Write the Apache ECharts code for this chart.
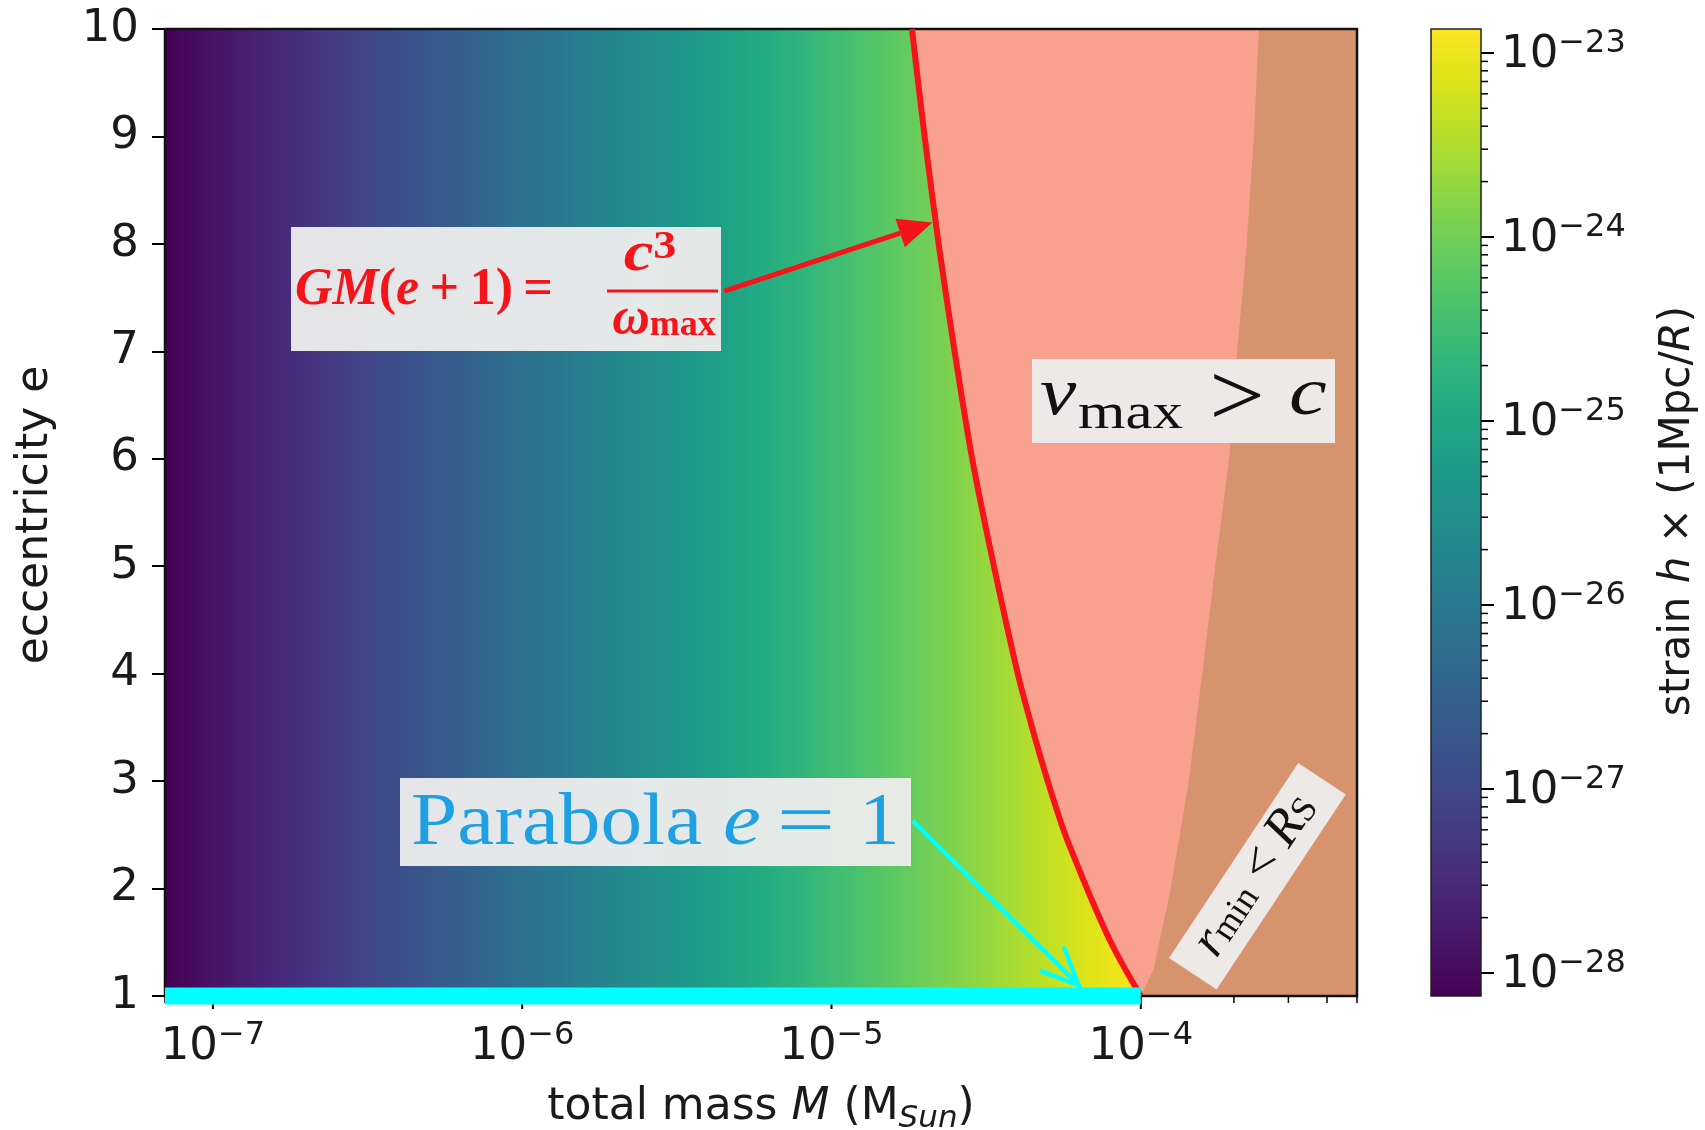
<!DOCTYPE html>
<html><head><meta charset="utf-8">
<script src="https://cdn.jsdelivr.net/npm/echarts@6.0.0/dist/echarts.min.js"></script>
<style>html,body{margin:0;padding:0;background:#fff}#c{width:1705px;height:1130px}</style>
</head><body><div id="c"></div>
<script>
// ---------------- data ----------------
const xRange = [7e-8, 5e-4];                 // total mass M (M_Sun), log axis
const eRange = [1, 10];                      // eccentricity e
const xMajorTicks = [1e-7, 1e-6, 1e-5, 1e-4];
const xMinorTicks = [7e-8, 8e-8, 9e-8,
  2e-7, 3e-7, 4e-7, 5e-7, 6e-7, 7e-7, 8e-7, 9e-7,
  2e-6, 3e-6, 4e-6, 5e-6, 6e-6, 7e-6, 8e-6, 9e-6,
  2e-5, 3e-5, 4e-5, 5e-5, 6e-5, 7e-5, 8e-5, 9e-5,
  2e-4, 3e-4, 4e-4, 5e-4];
// red curve  GM(e+1) = c^3/omega_max : limiting mass at each eccentricity
const curveE = [1, 1.25, 1.5, 1.75, 2, 2.5, 3, 3.5, 4, 5, 6, 7, 8, 9, 10];
const curveM = [1.0e-4, 8.9e-5, 8.0e-5, 7.3e-5, 6.7e-5, 5.7e-5, 5.0e-5, 4.45e-5, 4.0e-5, 3.35e-5, 2.85e-5, 2.5e-5, 2.22e-5, 2.0e-5, 1.82e-5];
// boundary of the r_min < R_S region
const rsE = [1, 1.25, 2, 3, 4, 5, 6, 7, 8, 9, 10];
const rsM = [1.0e-4, 1.10e-4, 1.25e-4, 1.43e-4, 1.58e-4, 1.74e-4, 1.93e-4, 2.05e-4, 2.20e-4, 2.32e-4, 2.41e-4];
// strain h x (1Mpc/R) read along the mass axis (colour depends on M only)
const strainMass = [7e-8, 1e-7, 1e-6, 1e-5, 1e-4];
const strainVal  = [7.5e-29, 1.36e-28, 6.3e-27, 2.9e-25, 1.35e-23];
// colour bar
const cbRange = [7.5e-29, 1.35e-23];
const cbMajorTicks = [1e-28, 1e-27, 1e-26, 1e-25, 1e-24, 1e-23];
const cbMinorTicks = [2e-28,3e-28,4e-28,5e-28,6e-28,7e-28,8e-28,9e-28,
  2e-27,3e-27,4e-27,5e-27,6e-27,7e-27,8e-27,9e-27,
  2e-26,3e-26,4e-26,5e-26,6e-26,7e-26,8e-26,9e-26,
  2e-25,3e-25,4e-25,5e-25,6e-25,7e-25,8e-25,9e-25,
  2e-24,3e-24,4e-24,5e-24,6e-24,7e-24,8e-24,9e-24];
// annotation arrows [tail, tip] in data coordinates (M, e)
const redArrow  = [[4.5e-6, 7.56], [2.12e-5, 8.2]];
const cyanArrow = [[1.83e-5, 2.63], [6.3e-5, 1.1]];

// ---------------- styles ----------------
const VIRIDIS = ['#440154','#471365','#482475','#463480','#414487','#3b528b','#355f8d','#2f6c8e','#2a788e','#25848e','#21918c','#1e9c89','#22a884','#2fb47c','#44bf70','#5ec962','#7ad151','#9bd93c','#bddf26','#dfe318','#fde725'];
const SANS = '"DejaVu Sans", sans-serif';
const SERIF = '"Liberation Serif", serif';
const TXT = '#1a1a1a';
const SALMON = '#f9a18f';
const BROWN = '#d6936e';
const RED = '#f5141a';
const CYAN = '#00ffff';
const BLUE_TXT = '#1ea0e3';
const BOXBG = 'rgba(236,236,236,0.96)';

function massForLogStrain(lh) {
  const xs = strainVal.map(Math.log10), ms = strainMass.map(Math.log10);
  let i = 0;
  while (i < xs.length - 2 && lh > xs[i + 1]) i++;
  const t = (lh - xs[i]) / (xs[i + 1] - xs[i]);
  return ms[i] + t * (ms[i + 1] - ms[i]);
}
function expLabel(v) {
  const l = Math.log10(v), e = Math.round(l);
  if (Math.abs(l - e) > 1e-6) return '';
  return '{b|10}{s|\u2212' + (-e) + '}';
}
const tickRich = {
  b: {fontFamily: SANS, fontSize: 45, color: TXT, lineHeight: 50, verticalAlign: 'bottom'},
  s: {fontFamily: SANS, fontSize: 32, color: TXT, lineHeight: 24, verticalAlign: 'top'}
};

function arrow(api, seg, color, width, headLen, headW, filled) {
  const a = api.coord(seg[0]), b = api.coord(seg[1]);
  const dx = b[0] - a[0], dy = b[1] - a[1], L = Math.hypot(dx, dy), ux = dx / L, uy = dy / L;
  const base = [b[0] - ux * headLen, b[1] - uy * headLen];
  const p1 = [base[0] - uy * headW / 2, base[1] + ux * headW / 2];
  const p2 = [base[0] + uy * headW / 2, base[1] - ux * headW / 2];
  const end = filled ? base : [b[0] - ux * width * 0.5, b[1] - uy * width * 0.5];
  const kids = [{type: 'line', shape: {x1: a[0], y1: a[1], x2: end[0], y2: end[1]}, style: {stroke: color, lineWidth: width}}];
  if (filled) kids.push({type: 'polygon', shape: {points: [b, p1, p2]}, style: {fill: color}});
  else kids.push({type: 'polyline', shape: {points: [p1, b, p2]}, style: {stroke: color, lineWidth: width, fill: null}});
  return {type: 'group', children: kids};
}
function txt(x, y, text, font, fill, extra, align) {
  return Object.assign({type: 'text', z: 101, x: x, y: y,
    style: {text: text, font: font, fill: fill, align: align || 'left', verticalAlign: 'middle'}}, extra || {});
}

const chart = echarts.init(document.getElementById('c'), null, {renderer: 'canvas'});
chart.setOption({
  animation: false,
  backgroundColor: '#ffffff',
  grid: [
    {left: 165, top: 29, width: 1192, height: 967},
    {left: 1431, top: 29, width: 50, height: 967}
  ],
  xAxis: [
    {type: 'log', logBase: 10, gridIndex: 0, min: xRange[0], max: xRange[1],
     axisLine: {show: false}, axisTick: {show: false}, splitLine: {show: false},
     axisLabel: {formatter: expLabel, rich: tickRich, margin: 24, showMinLabel: false, showMaxLabel: false}},
    {type: 'value', gridIndex: 1, min: 0, max: 1, show: false}
  ],
  yAxis: [
    {type: 'value', gridIndex: 0, min: eRange[0], max: eRange[1], interval: 1,
     axisLine: {show: false}, splitLine: {show: false},
     axisTick: {show: true, length: 13, lineStyle: {color: '#000', width: 2}},
     axisLabel: {fontFamily: SANS, fontSize: 45, color: TXT, margin: 26}},
    {type: 'log', logBase: 10, gridIndex: 1, position: 'right', min: cbRange[0], max: cbRange[1],
     axisLine: {show: false}, axisTick: {show: false}, splitLine: {show: false},
     axisLabel: {formatter: expLabel, rich: tickRich, margin: 20, showMinLabel: false, showMaxLabel: false}}
  ],
  series: [
    { // strain colour field, allowed region left of the red curve
      type: 'custom', xAxisIndex: 0, yAxisIndex: 0, z: 2,
      data: [[xRange[0], eRange[0]]],
      renderItem: (params, api) => {
        const pts = [api.coord([xRange[0], eRange[1]])];
        for (let i = curveE.length - 1; i >= 0; i--) pts.push(api.coord([curveM[i], curveE[i]]));
        pts.push(api.coord([xRange[0], eRange[0]]));
        const xa = api.coord([xRange[0], 1])[0], xb = api.coord([curveM[0], 1])[0];
        const lo = Math.log10(cbRange[0]), hi = Math.log10(cbRange[1]);
        const stops = VIRIDIS.map((c, i) => {
          const lh = lo + (i / (VIRIDIS.length - 1)) * (hi - lo);
          const x = api.coord([Math.pow(10, massForLogStrain(lh)), 1])[0];
          return {offset: Math.min(1, Math.max(0, (x - xa) / (xb - xa))), color: c};
        });
        return {type: 'polygon', shape: {points: pts},
          style: {fill: new echarts.graphic.LinearGradient(xa, 0, xb, 0, stops, true)}};
      }
    },
    { // v_max > c region
      type: 'custom', xAxisIndex: 0, yAxisIndex: 0, z: 3,
      data: [[xRange[1], eRange[0]]],
      renderItem: (params, api) => {
        const pts = curveE.map((e, i) => api.coord([curveM[i], e]));
        pts.push(api.coord([xRange[1], eRange[1]]));
        pts.push(api.coord([xRange[1], eRange[0]]));
        return {type: 'polygon', shape: {points: pts}, style: {fill: SALMON}};
      }
    },
    { // r_min < R_S region
      type: 'custom', xAxisIndex: 0, yAxisIndex: 0, z: 4,
      data: [[xRange[1], eRange[1]]],
      renderItem: (params, api) => {
        const pts = rsE.map((e, i) => api.coord([rsM[i], e]));
        pts.push(api.coord([xRange[1], eRange[1]]));
        pts.push(api.coord([xRange[1], eRange[0]]));
        return {type: 'polygon', shape: {points: pts}, style: {fill: BROWN}};
      }
    },
    { // frame
      type: 'custom', xAxisIndex: 0, yAxisIndex: 0, z: 5,
      data: [[xRange[0], eRange[1]]],
      renderItem: (params, api) => {
        const a = api.coord([xRange[0], eRange[1]]), b = api.coord([xRange[1], eRange[0]]);
        return {type: 'rect', shape: {x: a[0], y: a[1], width: b[0] - a[0], height: b[1] - a[1]},
          style: {fill: null, stroke: '#111', lineWidth: 2.5}};
      }
    },
    { // x major ticks
      type: 'custom', xAxisIndex: 0, yAxisIndex: 0, z: 5,
      data: xMajorTicks.map(v => [v, eRange[0]]),
      renderItem: (params, api) => {
        const p = api.coord([api.value(0), eRange[0]]);
        return {type: 'line', shape: {x1: p[0], y1: p[1], x2: p[0], y2: p[1] + 13}, style: {stroke: '#000', lineWidth: 2}};
      }
    },
    { // x minor ticks
      type: 'custom', xAxisIndex: 0, yAxisIndex: 0, z: 5,
      data: xMinorTicks.map(v => [v, eRange[0]]),
      renderItem: (params, api) => {
        const p = api.coord([api.value(0), eRange[0]]);
        return {type: 'line', shape: {x1: p[0], y1: p[1], x2: p[0], y2: p[1] + 7}, style: {stroke: '#000', lineWidth: 1.5}};
      }
    },
    { // red limiting curve
      type: 'line', xAxisIndex: 0, yAxisIndex: 0, z: 6,
      data: curveM.map((m, i) => [m, curveE[i]]),
      symbol: 'none', smooth: 0.25, clip: true,
      lineStyle: {color: RED, width: 6}
    },
    { // parabola e = 1
      type: 'line', xAxisIndex: 0, yAxisIndex: 0, z: 7,
      data: [[xRange[0], eRange[0]], [curveM[0], eRange[0]]],
      symbol: 'none', clip: false,
      lineStyle: {color: CYAN, width: 17, cap: 'butt'}
    },
    { // arrows
      type: 'custom', xAxisIndex: 0, yAxisIndex: 0, z: 8,
      data: [[xRange[0], eRange[0]]],
      renderItem: (params, api) => ({type: 'group', children: [
        arrow(api, redArrow, RED, 5, 34, 30, true),
        arrow(api, cyanArrow, CYAN, 4.5, 38, 34, false)
      ]})
    },
    { // colour bar
      type: 'custom', xAxisIndex: 1, yAxisIndex: 1, z: 2,
      data: [[0, cbRange[0]]],
      renderItem: (params, api) => {
        const a = api.coord([0, cbRange[1]]), b = api.coord([1, cbRange[0]]);
        const stops = VIRIDIS.map((c, i) => ({offset: i / (VIRIDIS.length - 1), color: c}));
        return {type: 'rect', shape: {x: a[0], y: a[1], width: b[0] - a[0], height: b[1] - a[1]},
          style: {fill: new echarts.graphic.LinearGradient(0, 1, 0, 0, stops), stroke: '#222', lineWidth: 1.5}};
      }
    },
    { // colour bar major ticks
      type: 'custom', xAxisIndex: 1, yAxisIndex: 1, z: 3,
      data: cbMajorTicks.map(v => [1, v]),
      renderItem: (params, api) => {
        const p = api.coord([1, api.value(1)]);
        return {type: 'line', shape: {x1: p[0], y1: p[1], x2: p[0] + 13, y2: p[1]}, style: {stroke: '#000', lineWidth: 2}};
      }
    },
    { // colour bar minor ticks
      type: 'custom', xAxisIndex: 1, yAxisIndex: 1, z: 3,
      data: cbMinorTicks.map(v => [1, v]),
      renderItem: (params, api) => {
        const p = api.coord([1, api.value(1)]);
        return {type: 'line', shape: {x1: p[0], y1: p[1], x2: p[0] + 7, y2: p[1]}, style: {stroke: '#000', lineWidth: 1.5}};
      }
    }
  ],
  graphic: [
    // axis titles
    {type: 'text', z: 100, x: 761, y: 1110, style: {
      text: '{n|total mass }{i|M}{n| (M}{s|Sun}{n|)}', align: 'center', verticalAlign: 'middle',
      rich: {
        n: {fontFamily: SANS, fontSize: 44, fill: TXT, lineHeight: 48, verticalAlign: 'top'},
        i: {fontFamily: SANS, fontSize: 44, fontStyle: 'italic', fill: TXT, lineHeight: 48, verticalAlign: 'top'},
        s: {fontFamily: SANS, fontSize: 31, fontStyle: 'italic', fill: TXT, lineHeight: 22, verticalAlign: 'bottom'}
      }}},
    {type: 'text', z: 100, x: 36, y: 515, rotation: Math.PI / 2, style: {
      text: 'eccentricity e', align: 'center', verticalAlign: 'middle',
      font: '44px ' + SANS, fill: TXT}},
    {type: 'text', z: 100, x: 1678, y: 511, rotation: Math.PI / 2, style: {
      text: '{n|strain }{i|h}{n| \u00d7 (1Mpc/}{i|R}{n|)}', align: 'center', verticalAlign: 'middle',
      rich: {
        n: {fontFamily: SANS, fontSize: 42, fill: TXT},
        i: {fontFamily: SANS, fontSize: 42, fontStyle: 'italic', fill: TXT}
      }}},
    // formula box
    {type: 'rect', z: 100, shape: {x: 291, y: 227, width: 430, height: 124}, style: {fill: BOXBG}},
    {type: 'text', z: 101, x: 295, y: 291, style: {
      text: '{i|GM}{u|(}{i|e}{u|\u2009+\u20091)\u2009=}', align: 'left', verticalAlign: 'middle',
      rich: {
        i: {fontFamily: SERIF, fontSize: 52, fontStyle: 'italic', fontWeight: 'bold', fill: RED},
        u: {fontFamily: SERIF, fontSize: 52, fontWeight: 'bold', fill: RED}
      }}},
    {type: 'text', z: 101, x: 650, y: 256, scaleX: 1.15, style: {
      text: '{i|c}{p|3}', align: 'center', verticalAlign: 'middle',
      rich: {
        i: {fontFamily: SERIF, fontSize: 58, fontStyle: 'italic', fontWeight: 'bold', fill: RED, lineHeight: 56, verticalAlign: 'bottom'},
        p: {fontFamily: SERIF, fontSize: 40, fontWeight: 'bold', fill: RED, lineHeight: 24, verticalAlign: 'top'}
      }}},
    {type: 'line', z: 101, shape: {x1: 607, y1: 291, x2: 718, y2: 291}, style: {stroke: RED, lineWidth: 3}},
    {type: 'text', z: 101, x: 664, y: 319, style: {
      text: '{i|\u03c9}{m|max}', align: 'center', verticalAlign: 'middle',
      rich: {
        i: {fontFamily: SERIF, fontSize: 52, fontStyle: 'italic', fontWeight: 'bold', fill: RED, lineHeight: 50, verticalAlign: 'top'},
        m: {fontFamily: SERIF, fontSize: 36, fontWeight: 'bold', fill: RED, lineHeight: 16, verticalAlign: 'bottom'}
      }}},
    // parabola box
    {type: 'rect', z: 100, shape: {x: 400, y: 778, width: 511, height: 88}, style: {fill: BOXBG}},
    txt(411, 825, 'Parabola', '73px ' + SERIF, BLUE_TXT, {scaleX: 1.14}),
    txt(723, 825, 'e', 'italic 74px ' + SERIF, BLUE_TXT, {scaleX: 1.15}),
    txt(806, 825, '=', '74px ' + SERIF, BLUE_TXT, {scaleX: 1.4}, 'center'),
    txt(859, 825, '1', '74px ' + SERIF, BLUE_TXT, {scaleX: 1.1}),
    // v_max > c box
    {type: 'rect', z: 100, shape: {x: 1032, y: 359, width: 303, height: 84}, style: {fill: BOXBG}},
    txt(1040, 396, 'v', 'italic 68px ' + SERIF, '#111', {scaleX: 1.2}),
    txt(1078, 415, 'max', '50px ' + SERIF, '#111', {scaleX: 1.22}),
    txt(1237, 402, '>', '68px ' + SERIF, '#111', {scaleX: 1.45, scaleY: 1.3}, 'center'),
    txt(1289, 396, 'c', 'italic 68px ' + SERIF, '#111', {scaleX: 1.25}),
    // r_min < R_S rotated box
    {type: 'group', z: 100, x: 1257, y: 876, rotation: 56.5 * Math.PI / 180, children: [
      {type: 'rect', z: 100, shape: {x: -117, y: -28, width: 234, height: 57}, style: {fill: BOXBG}},
      {type: 'text', z: 101, x: 0, y: -3, style: {
        text: '{i|r}{s|min}{u| < }{i|R}{s|S}', align: 'center', verticalAlign: 'middle',
        rich: {
          i: {fontFamily: SERIF, fontSize: 52, fontStyle: 'italic', fill: '#111', lineHeight: 50, verticalAlign: 'top'},
          s: {fontFamily: SERIF, fontSize: 36, fill: '#111', lineHeight: 20, verticalAlign: 'bottom'},
          u: {fontFamily: SERIF, fontSize: 52, fill: '#111', lineHeight: 50, verticalAlign: 'top'}
        }}}
    ]}
  ]
});
</script>
</body></html>
